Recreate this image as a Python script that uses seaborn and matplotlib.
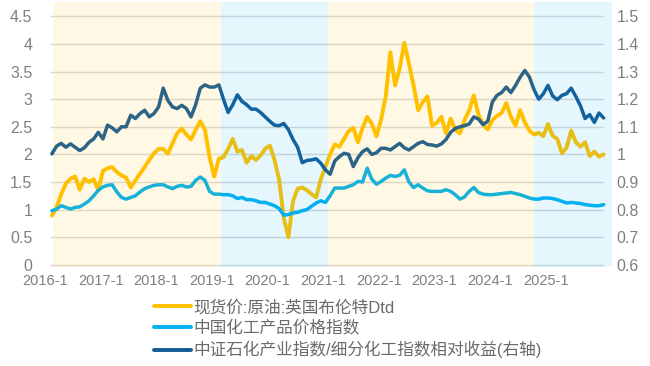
import matplotlib
matplotlib.use("Agg")
import matplotlib.pyplot as plt
import numpy as np
import pandas as pd
import seaborn as sns

# monthly values, first point = 2016-1
brent = [0.89, 1.04, 1.28, 1.47, 1.56, 1.60, 1.36, 1.56, 1.50, 1.55, 1.35, 1.70,
         1.75, 1.77, 1.68, 1.62, 1.58, 1.40, 1.53, 1.65, 1.77, 1.90, 2.02, 2.10,
         2.10, 2.01, 2.20, 2.38, 2.47, 2.36, 2.27, 2.45, 2.60, 2.45, 1.95, 1.60,
         1.92, 1.95, 2.10, 2.28, 2.05, 2.08, 1.85, 1.97, 1.90, 1.98, 2.10, 2.16,
         1.90, 1.55, 0.85, 0.50, 1.15, 1.38, 1.40, 1.35, 1.28, 1.22, 1.55, 1.78,
         2.00, 2.18, 2.14, 2.28, 2.42, 2.48, 2.22, 2.48, 2.68, 2.55, 2.33, 2.63,
         3.05, 3.85, 3.25, 3.55, 4.02, 3.65, 3.25, 2.80, 2.95, 3.05, 2.52, 2.57,
         2.68, 2.38, 2.65, 2.45, 2.38, 2.62, 2.80, 3.07, 2.72, 2.54, 2.45, 2.62,
         2.70, 2.75, 2.93, 2.68, 2.52, 2.80, 2.58, 2.43, 2.36, 2.39, 2.33, 2.55,
         2.34, 2.28, 2.02, 2.12, 2.43, 2.22, 2.14, 2.22, 1.97, 2.05, 1.96, 2.00]

chem_price = [0.98, 1.01, 1.07, 1.04, 1.01, 1.04, 1.05, 1.10, 1.16, 1.25, 1.35, 1.41,
              1.44, 1.45, 1.32, 1.22, 1.19, 1.22, 1.25, 1.32, 1.38, 1.41, 1.44, 1.45,
              1.45, 1.41, 1.38, 1.42, 1.44, 1.41, 1.42, 1.53, 1.59, 1.53, 1.33, 1.28,
              1.28, 1.27, 1.27, 1.25, 1.20, 1.22, 1.18, 1.18, 1.16, 1.13, 1.13, 1.10,
              1.07, 1.02, 0.90, 0.91, 0.94, 0.95, 0.98, 1.00, 1.06, 1.12, 1.16, 1.13,
              1.25, 1.39, 1.39, 1.39, 1.42, 1.45, 1.51, 1.50, 1.75, 1.55, 1.46, 1.51,
              1.57, 1.62, 1.60, 1.62, 1.72, 1.50, 1.40, 1.45, 1.39, 1.34, 1.33, 1.33,
              1.33, 1.36, 1.33, 1.27, 1.19, 1.23, 1.33, 1.40, 1.31, 1.28, 1.27, 1.27,
              1.28, 1.29, 1.30, 1.31, 1.29, 1.27, 1.24, 1.21, 1.19, 1.19, 1.21, 1.21,
              1.20, 1.18, 1.15, 1.12, 1.13, 1.12, 1.11, 1.09, 1.08, 1.07, 1.07, 1.09]

# right axis
rel_return = [1.002, 1.030, 1.040, 1.026, 1.038, 1.026, 1.014, 1.024, 1.044, 1.056, 1.080, 1.056,
              1.106, 1.096, 1.082, 1.100, 1.100, 1.142, 1.130, 1.148, 1.160, 1.136, 1.148, 1.172,
              1.240, 1.196, 1.172, 1.166, 1.178, 1.166, 1.136, 1.180, 1.240, 1.252, 1.244, 1.244,
              1.252, 1.200, 1.152, 1.180, 1.216, 1.192, 1.180, 1.164, 1.164, 1.152, 1.136, 1.120,
              1.106, 1.104, 1.112, 1.090, 1.054, 1.026, 0.970, 0.978, 0.980, 0.984, 0.968, 0.944,
              0.928, 0.976, 0.992, 1.004, 1.000, 0.956, 0.988, 1.010, 1.020, 1.000, 1.006, 1.022,
              1.022, 1.016, 1.028, 1.040, 1.024, 1.016, 1.028, 1.040, 1.046, 1.036, 1.034, 1.030,
              1.038, 1.054, 1.080, 1.094, 1.100, 1.104, 1.110, 1.136, 1.128, 1.108, 1.120, 1.190,
              1.214, 1.224, 1.244, 1.224, 1.250, 1.280, 1.304, 1.280, 1.234, 1.200, 1.220, 1.250,
              1.212, 1.198, 1.214, 1.220, 1.240, 1.210, 1.176, 1.130, 1.144, 1.116, 1.150, 1.132]

year_labels = ["2016-1", "2017-1", "2018-1", "2019-1", "2020-1",
               "2021-1", "2022-1", "2023-1", "2024-1", "2025-1"]

# shaded periods, in months from 2016-1
yellow_spans = [(0.2, 36.5), (59.5, 104.0)]
blue_spans = [(36.5, 59.5), (104.0, 121.0)]

labels = ["现货价:原油:英国布伦特Dtd", "中国化工产品价格指数",
          "中证石化产业指数/细分化工指数相对收益(右轴)"]
colors = ["#FFC000", "#00B0F0", "#135A96"]

sns.set_theme(style="white")
plt.rcParams["font.family"] = ["Liberation Sans", "Noto Sans CJK SC"]

df = pd.DataFrame({"month": np.arange(len(brent)), "brent": brent,
                   "chem": chem_price, "rel": rel_return})

fig = plt.figure(figsize=(6.5, 3.66), dpi=100)
ax = fig.add_axes([0.0692, 0.2705, 0.8723, 0.7254])
ax2 = ax.twinx()

sns.lineplot(data=df, x="month", y="brent", ax=ax, color=colors[0], lw=2.8, legend=False)
sns.lineplot(data=df, x="month", y="chem", ax=ax, color=colors[1], lw=2.5, legend=False)
sns.lineplot(data=df, x="month", y="rel", ax=ax2, color=colors[2], lw=2.5, legend=False)

ax.set_xlim(-0.43, 120.8)
ax.set_ylim(-0.04, 4.77)
ax2.set_ylim(0.6 - 0.04 / 5, 0.6 + 4.77 / 5)

left_ticks = np.arange(0, 4.51, 0.5)
ax.set_yticks(left_ticks)
ax.set_yticklabels([f"{t:g}" for t in left_ticks])
right_ticks = np.arange(0.6, 1.51, 0.1)
ax2.set_yticks(right_ticks)
ax2.set_yticklabels(["1" if abs(t - 1) < 1e-6 else f"{t:.1f}" for t in right_ticks])

ax.set_xticks([12 * i - 1.5 for i in range(len(year_labels))])
ax.set_xticklabels(year_labels)

ax.hlines(left_ticks, -0.43, 118.9, color="#D9D9D9", lw=1, zorder=0)

for a, b in yellow_spans:
    ax2.axvspan(a, b, color="#FFC000", alpha=0.1, lw=0, zorder=5)
for a, b in blue_spans:
    ax2.axvspan(a, b, color="#00B0F0", alpha=0.1, lw=0, zorder=5)

for a in (ax, ax2):
    a.set_xlabel("")
    a.set_ylabel("")
    for s in a.spines.values():
        s.set_visible(False)
    a.grid(False)
ax.tick_params(axis="y", length=0, pad=9, labelsize=11.5, labelcolor="#7F7F7F")
ax.tick_params(axis="x", length=0, pad=5, labelsize=10.5, labelcolor="#7F7F7F")
ax2.tick_params(axis="y", length=0, pad=3.5, labelsize=11.5, labelcolor="#7F7F7F")

handles = [plt.Line2D([], [], color=c, lw=2.8) for c in colors]
fig.legend(handles, labels, loc="upper left", bbox_to_anchor=(146 / 650, 1 - 291 / 366),
           frameon=False, fontsize=12, labelcolor="#6A6A6A", borderpad=0,
           handlelength=2.2, handletextpad=0.15, labelspacing=0.3)

fig.savefig("out.png", dpi=100)
